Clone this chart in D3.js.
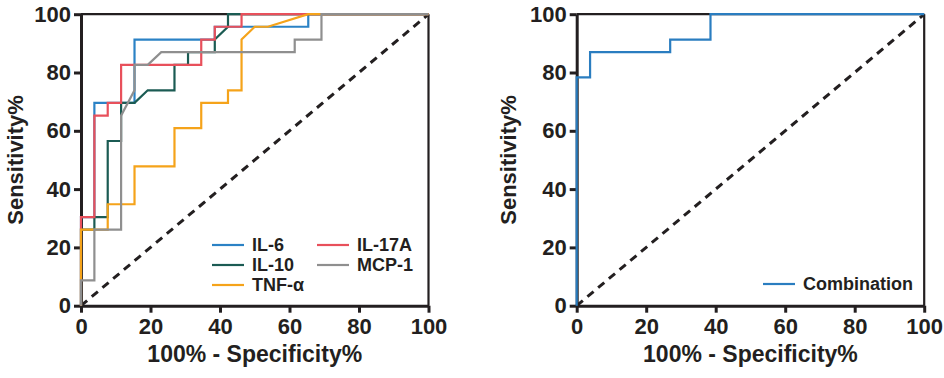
<!DOCTYPE html>
<html>
<head>
<meta charset="utf-8">
<script src="https://cdn.jsdelivr.net/npm/d3@7"></script>
<style>
  html, body { margin: 0; padding: 0; background: #fff; }
  svg { display: block; }
  text { font-family: "Liberation Sans", Arial, sans-serif; font-weight: bold; fill: #231f20; }
</style>
</head>
<body>
<svg id="chart" width="944" height="378"></svg>
<script>
// ---- Data (100% - Specificity%, Sensitivity%) ----
const xTicks = [0, 20, 40, 60, 80, 100];
const yTicks = [0, 20, 40, 60, 80, 100];
const xTitle = "100% - Specificity%";
const yTitle = "Sensitivity%";

const seriesNames = ["IL-6", "IL-10", "IL-17A", "TNF-α", "MCP-1"];
const seriesColors = ["#2b82c5", "#1b5b53", "#e8505b", "#f5a31a", "#8f8f8f"];

const il6_x    = [0, 0, 3.85, 3.85, 15.4, 15.4, 34.6, 38.5, 38.5, 65.4, 65.4, 100];
const il6_y    = [0, 30.4, 30.4, 69.6, 69.6, 91.3, 91.3, 91.3, 95.7, 95.7, 100, 100];

const il10_x   = [0, 0, 3.85, 3.85, 7.69, 7.69, 11.54, 11.54, 15.4, 19.2, 26.9, 26.9, 30.8, 30.8, 38.5, 38.5, 42.3, 42.3, 100];
const il10_y   = [0, 26.1, 26.1, 30.4, 30.4, 56.5, 56.5, 69.6, 69.6, 73.9, 73.9, 82.6, 82.6, 87.0, 87.0, 91.3, 95.7, 100, 100];

const il17a_x  = [0, 0, 3.85, 3.85, 7.69, 7.69, 11.54, 11.54, 34.6, 34.6, 38.5, 38.5, 46.2, 46.2, 100];
const il17a_y  = [0, 30.4, 30.4, 65.2, 65.2, 69.6, 69.6, 82.6, 82.6, 91.3, 91.3, 95.7, 95.7, 100, 100];

const tnf_x    = [0, 0, 7.69, 7.69, 15.4, 15.4, 26.9, 26.9, 34.6, 34.6, 42.3, 42.3, 46.2, 46.2, 50.0, 53.8, 65.4, 100];
const tnf_y    = [0, 26.1, 26.1, 34.8, 34.8, 47.8, 47.8, 60.9, 60.9, 69.6, 69.6, 73.9, 73.9, 91.3, 95.7, 95.7, 100, 100];

const mcp1_x   = [0, 0, 3.85, 3.85, 11.54, 11.54, 15.4, 15.4, 19.2, 23.1, 61.5, 61.5, 69.2, 69.2, 100];
const mcp1_y   = [0, 8.7, 8.7, 26.1, 26.1, 65.2, 73.9, 82.6, 82.6, 87.0, 87.0, 91.3, 91.3, 100, 100];

const comboName = "Combination";
const comboColor = "#2a7dc0";
const combo_x  = [0, 0, 3.85, 3.85, 26.9, 26.9, 38.5, 38.5, 100];
const combo_y  = [0, 78.3, 78.3, 87.0, 87.0, 91.3, 91.3, 100, 100];

const refLine_x = [0, 100];
const refLine_y = [0, 100];

// ---- Drawing ----
const svg = d3.select("#chart");
const ink = "#231f20";

function zip(xs, ys) { return xs.map((x, i) => [x, ys[i]]); }

function panel(x0, x1, y0, y1, titleX, series, legend) {
  const g = svg.append("g");
  const x = d3.scaleLinear().domain([0, 100]).range([x0, x1]);
  const y = d3.scaleLinear().domain([0, 100]).range([y0, y1]);

  // frame top/right
  g.append("line").attr("x1", x(0)).attr("x2", x(100)).attr("y1", y(100)).attr("y2", y(100))
    .attr("stroke", ink).attr("stroke-width", 2.2);
  g.append("line").attr("x1", x(100)).attr("x2", x(100)).attr("y1", y(0)).attr("y2", y(100))
    .attr("stroke", ink).attr("stroke-width", 2.2);

  // axes
  const ax = g.append("g").attr("transform", `translate(0,${y0})`)
    .call(d3.axisBottom(x).tickValues(xTicks).tickSize(7).tickSizeOuter(0).tickPadding(6));
  const ay = g.append("g").attr("transform", `translate(${x0},0)`)
    .call(d3.axisLeft(y).tickValues(yTicks).tickSize(7).tickSizeOuter(0).tickPadding(3));
  [ax, ay].forEach(a => {
    a.select(".domain").attr("stroke", ink).attr("stroke-width", 3);
    a.selectAll(".tick line").attr("stroke", ink).attr("stroke-width", 3);
    a.selectAll(".tick text").style("font-size", "22px").attr("fill", ink);
  });

  // reference diagonal
  const line = d3.line().x(d => x(d[0])).y(d => y(d[1]));
  g.append("path").datum(zip(refLine_x, refLine_y)).attr("d", line)
    .attr("fill", "none").attr("stroke", ink).attr("stroke-width", 3)
    .attr("stroke-dasharray", "8,6");

  // series (drawn over axes, as in the reference)
  series.forEach(s => {
    g.append("path").datum(zip(s.x, s.y)).attr("d", line)
      .attr("fill", "none").attr("stroke", s.color).attr("stroke-width", 2.2)
      .attr("stroke-linejoin", "miter");
  });

  // titles
  g.append("text").attr("x", (x0 + x1) / 2).attr("y", 362).attr("text-anchor", "middle")
    .style("font-size", "23px").text(xTitle);
  g.append("text").attr("transform", `translate(${titleX},${(y0 + y1) / 2}) rotate(-90)`)
    .attr("text-anchor", "middle").attr("dy", "0.35em").style("font-size", "22px").text(yTitle);

  // legend
  legend.forEach(l => {
    g.append("line").attr("x1", l.lx).attr("x2", l.lx + 32).attr("y1", l.ly).attr("y2", l.ly)
      .attr("stroke", l.color).attr("stroke-width", 2.2);
    g.append("text").attr("x", l.lx + 40).attr("y", l.ly).attr("dy", "0.35em")
      .style("font-size", "18px").text(l.name);
  });
}

const leftSeries = [
  { x: il6_x, y: il6_y, color: seriesColors[0] },
  { x: il10_x, y: il10_y, color: seriesColors[1] },
  { x: il17a_x, y: il17a_y, color: seriesColors[2] },
  { x: tnf_x, y: tnf_y, color: seriesColors[3] },
  { x: mcp1_x, y: mcp1_y, color: seriesColors[4] }
];
const leftLegend = [
  { name: seriesNames[0], color: seriesColors[0], lx: 212, ly: 245 },
  { name: seriesNames[2], color: seriesColors[2], lx: 317, ly: 245 },
  { name: seriesNames[1], color: seriesColors[1], lx: 212, ly: 265 },
  { name: seriesNames[4], color: seriesColors[4], lx: 317, ly: 265 },
  { name: seriesNames[3], color: seriesColors[3], lx: 212, ly: 285 }
];
panel(81, 428.5, 305.7, 14.2, 15, leftSeries, leftLegend);

panel(576.7, 924.2, 305.7, 14.2, 508,
  [{ x: combo_x, y: combo_y, color: comboColor }],
  [{ name: comboName, color: comboColor, lx: 763, ly: 284 }]);
</script>
</body>
</html>
